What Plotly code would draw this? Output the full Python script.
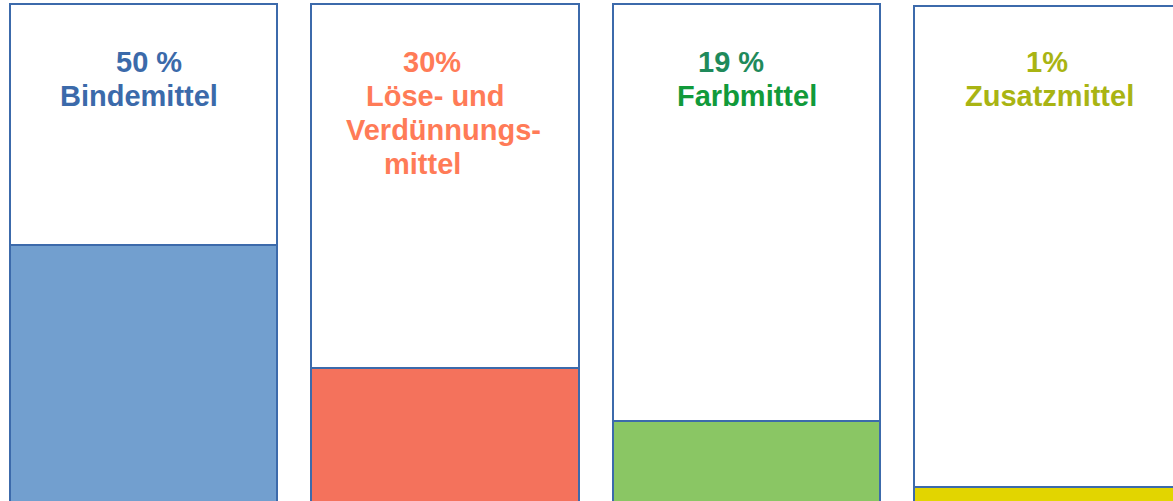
import plotly.graph_objects as go

# ---- data ----
categories = ["Bindemittel", "Löse- und Verdünnungsmittel", "Farbmittel", "Zusatzmittel"]
pct_labels = ["50 %", "30%", "19 %", "1%"]
name_lines = [["Bindemittel"], ["Löse- und", "Verdünnungs-", "mittel"], ["Farbmittel"], ["Zusatzmittel"]]
fill_level = [0.521, 0.275, 0.170, 0.038]   # filled height of each container
box_level = [1.002, 1.002, 1.002, 0.998]    # container height

# ---- style ----
fill_colors = ["#729FCF", "#F4725C", "#8AC664", "#E2D500"]
pct_colors = ["#3B6AAA", "#FF7B57", "#1F8A5B", "#A9B413"]
name_colors = ["#3B6AAA", "#FF7B57", "#119A3A", "#A9B413"]
outline = "#3C6AAB"
W, H = 1173, 501
pct_xshift = [5, -13.5, -16, -1]
name_xshift = [[-5], [-10, -1.5, -22.5], [0.5], [1]]
pct_ypx = 60.5
name_ypx0, name_dy = 95, 34
font_fam = "Liberation Sans, Arial, sans-serif"
fsize = 29

xpos = list(range(len(categories)))

fig = go.Figure()
fig.add_trace(go.Bar(x=xpos, y=box_level, width=0.886,
                     marker=dict(color="white", line=dict(color=outline, width=2)),
                     hoverinfo="skip", showlegend=False))
fig.add_trace(go.Bar(x=xpos, y=fill_level, width=0.886,
                     marker=dict(color=fill_colors, line=dict(color=outline, width=2)),
                     customdata=pct_labels, hovertemplate="%{customdata}<extra></extra>",
                     showlegend=False))

ann = []
def ypaper(py):
    return 1 - (py + 1) / H

for i in xpos:
    ann.append(dict(x=i, xref="x", y=ypaper(pct_ypx), yref="paper", text=f"<b>{pct_labels[i]}</b>",
                    showarrow=False, xanchor="center", yanchor="middle", xshift=pct_xshift[i],
                    font=dict(family=font_fam, size=fsize, color=pct_colors[i])))
    for k, line in enumerate(name_lines[i]):
        ann.append(dict(x=i, xref="x", y=ypaper(name_ypx0 + k * name_dy), yref="paper",
                        text=f"<b>{line}</b>", showarrow=False, xanchor="center", yanchor="middle",
                        xshift=name_xshift[i][k],
                        font=dict(family=font_fam, size=fsize, color=name_colors[i])))

fig.update_layout(
    width=W, height=H, margin=dict(l=0, r=0, t=0, b=0),
    paper_bgcolor="white", plot_bgcolor="white",
    barmode="overlay", bargap=0,
    annotations=ann,
    xaxis=dict(range=[-0.476, 3.4146], visible=False, fixedrange=True),
    yaxis=dict(range=[0.01, 1.01], visible=False, fixedrange=True),
)

fig.write_html("out.html", config={"displayModeBar": False},
               post_script="document.body.style.margin='0';document.body.style.overflow='hidden';")
